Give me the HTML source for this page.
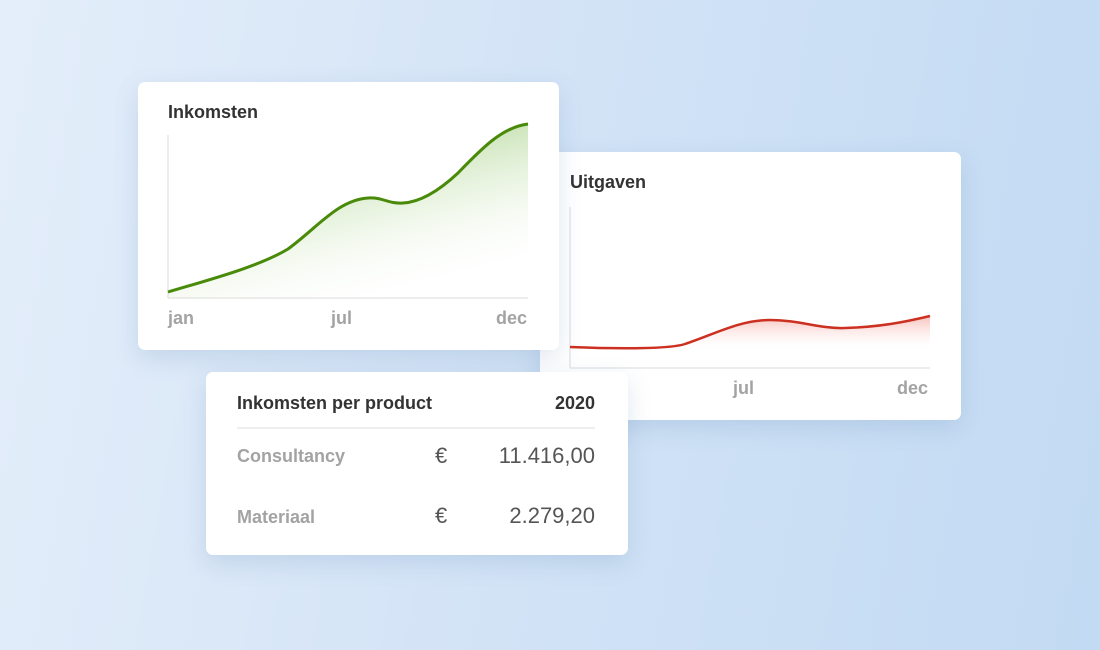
<!DOCTYPE html>
<html><head><style>
body{margin:0;width:1100px;height:650px;overflow:hidden;background:linear-gradient(100deg,#e4eefa 0%,#d2e3f6 50%,#c2daf3 100%);font-family:"Liberation Sans",sans-serif;position:relative}
.card{position:absolute;background:#fff;border-radius:7px;box-shadow:0 8px 24px rgba(80,120,170,.18)}
.t{position:absolute;font-weight:bold;color:#333;font-size:18px}
.l{position:absolute;font-weight:bold;color:#a3a3a3;font-size:18px}
</style></head><body>
<div class="card" style="left:540px;top:152px;width:421px;height:268px;z-index:1">
<div class="t" style="left:30px;top:20px">Uitgaven</div>
<svg style="position:absolute;left:0;top:0" width="421" height="268">
<defs><linearGradient id="r" gradientUnits="userSpaceOnUse" x1="0" y1="165" x2="0" y2="200"><stop offset="0" stop-color="#f08a80" stop-opacity=".5"/><stop offset="1" stop-color="#fff" stop-opacity="0"/></linearGradient></defs>
<line x1="30" y1="55" x2="30" y2="216" stroke="#e6e6e6" stroke-width="1.5"/>
<line x1="30" y1="216" x2="390" y2="216" stroke="#e6e6e6" stroke-width="1.5"/>
<path d="M30,195 C80,197 130,197 145,192 C175,182 200,168 230,168 C260,168 280,177 305,176 C340,175 365,170 390,164 L390,216 L30,216Z" fill="url(#r)"/>
<path d="M30,195 C80,197 130,197 145,192 C175,182 200,168 230,168 C260,168 280,177 305,176 C340,175 365,170 390,164" fill="none" stroke="#cc3020" stroke-width="2.5"/>
</svg>
<div class="l" style="left:193px;top:226px">jul</div>
<div class="l" style="left:357px;top:226px">dec</div>
</div>
<div class="card" style="left:138px;top:82px;width:421px;height:268px;z-index:2">
<div class="t" style="left:30px;top:20px">Inkomsten</div>
<svg style="position:absolute;left:0;top:0" width="421" height="268">
<defs><linearGradient id="g" x1="0.3" y1="0.2" x2="0.7" y2="1"><stop offset="0" stop-color="#a9d38a" stop-opacity=".8"/><stop offset="1" stop-color="#fff" stop-opacity="0"/></linearGradient></defs>
<line x1="30" y1="53" x2="30" y2="216" stroke="#e6e6e6" stroke-width="1.5"/>
<line x1="30" y1="216" x2="390" y2="216" stroke="#e6e6e6" stroke-width="1.5"/>
<path d="M30,210 C70,198 120,185 150,167 C180,145 200,118 230,116 C245,115 250,122 265,121 C285,120 305,105 320,91 C345,65 365,45 390,42 L390,216 L30,216Z" fill="url(#g)"/>
<path d="M30,210 C70,198 120,185 150,167 C180,145 200,118 230,116 C245,115 250,122 265,121 C285,120 305,105 320,91 C345,65 365,45 390,42" fill="none" stroke="#4a8a0a" stroke-width="3"/>
</svg>
<div class="l" style="left:30px;top:226px">jan</div>
<div class="l" style="left:193px;top:226px">jul</div>
<div class="l" style="left:358px;top:226px">dec</div>
</div>
<div class="card" style="left:206px;top:372px;width:422px;height:183px;z-index:3">
<div class="t" style="left:31px;top:21px">Inkomsten per product</div>
<div class="t" style="right:33px;top:21px">2020</div>
<div style="position:absolute;left:31px;right:33px;top:55px;height:2px;background:#eee"></div>
<div class="l" style="left:31px;top:74px">Consultancy</div>
<div style="position:absolute;left:229px;top:71px;font-size:22px;color:#555">€</div>
<div style="position:absolute;right:33px;top:71px;font-size:22px;color:#555">11.416,00</div>
<div class="l" style="left:31px;top:135px">Materiaal</div>
<div style="position:absolute;left:229px;top:131px;font-size:22px;color:#555">€</div>
<div style="position:absolute;right:33px;top:131px;font-size:22px;color:#555">2.279,20</div>
</div>
</body></html>
